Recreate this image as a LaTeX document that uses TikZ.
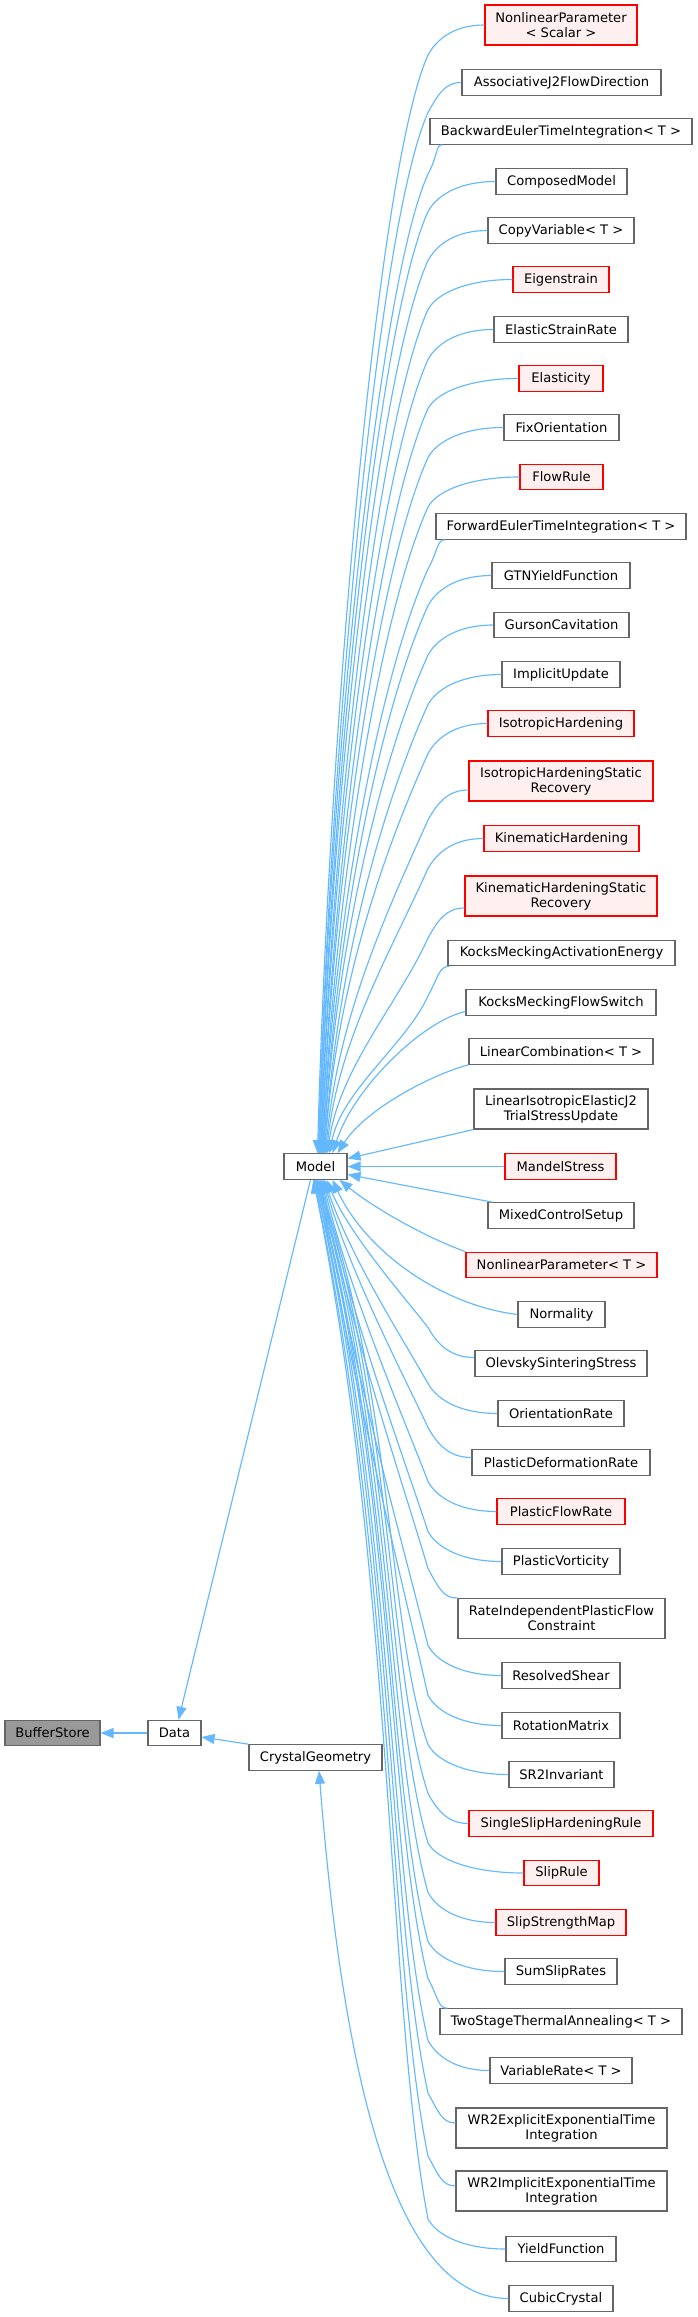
\documentclass[tikz,border=0pt]{standalone}
\usepackage{fontspec}
\setmainfont{DejaVu Sans}
\usetikzlibrary{calc,arrows.meta}
\definecolor{edgec}{HTML}{63B8FF}
\definecolor{grayb}{HTML}{666666}
\definecolor{redfill}{HTML}{FFF0F0}
\definecolor{bsfill}{HTML}{999999}
\tikzset{
  box/.style={draw=grayb, fill=white, line width=1.15pt, minimum height=25.5pt, inner sep=0pt,
    align=center, font=\fontsize{13.1pt}{15pt}\selectfont},
  tall/.style={minimum height=40pt},
  redbox/.style={box, draw=red, fill=redfill},
  edge/.style={draw=edgec, line width=1.15pt, -{Triangle[length=13pt,width=10pt]}}
}
\newcommand\upE[4]{%
\pgfmathsetmacro\eca{#2-0.5*(#2-428)}%
\pgfmathsetmacro\ecb{#3+12}%
\pgfmathsetmacro\eky{#3+30}%
\pgfmathsetmacro\egp{1154-\eky}%
\pgfmathsetmacro\ela{min(110,0.3*\egp)}%
\pgfmathsetmacro\epax{428-0.45*\ela}%
\pgfmathsetmacro\epay{\eky+\ela}%
\pgfmathsetmacro\epbx{315.5+#4+12}%
\pgfmathsetmacro\epby{1154-0.4*\egp}%
\draw[edge] (#1) .. controls (\eca,#3) and (438,\ecb) .. (428,\eky) .. controls (\epax,\epay) and (\epbx,\epby) .. ($(Model.north)+(#4,0)$);}
\newcommand\loE[4]{%
\pgfmathsetmacro\eca{#2-0.5*(#2-428)}%
\pgfmathsetmacro\ecb{#3-12}%
\pgfmathsetmacro\eky{#3-30}%
\pgfmathsetmacro\egp{\eky-1179}%
\pgfmathsetmacro\epax{(\eky<1700) ? 405 : 388}%
\pgfmathsetmacro\epay{\eky-0.2*\egp}%
\pgfmathsetmacro\epbx{(\eky<1700) ? 350 : 393}%
\pgfmathsetmacro\epby{1179+0.38*\egp}%
\draw[edge] (#1) .. controls (\eca,#3) and (438,\ecb) .. (428,\eky) .. controls (\epax,\epay) and (\epbx,\epby) .. ($(Model.south)+(#4,0)$);}
\begin{document}
\begin{tikzpicture}[x=1pt,y=-1pt]
\useasboundingbox (0,0) rectangle (697,2317);
% left part
\node[box, fill=bsfill, minimum width=95pt] (BufferStore) at (52.5,1733) {BufferStore};
\node[box, minimum width=53pt] (Data) at (174.5,1733) {Data};
\node[box, minimum width=133pt] (CrystalGeometry) at (315.5,1757.5) {CrystalGeometry};
\node[box, minimum width=63pt] (Model) at (315.5,1166.5) {Model};
% right column
\node[redbox, tall, minimum width=152pt] (NPScalar) at (561,25) {NonlinearParameter\\< Scalar >};
\node[box, minimum width=199pt] (AssocJ2) at (561.5,82.5) {AssociativeJ2FlowDirection};
\node[box, minimum width=262pt] (Backward) at (561,131.5) {BackwardEulerTimeIntegration< T >};
\node[box, minimum width=131pt] (Composed) at (561.5,181.5) {ComposedModel};
\node[box, minimum width=146pt] (CopyVariable) at (561,230.5) {CopyVariable< T >};
\node[redbox, minimum width=96pt] (Eigenstrain) at (561,279.5) {Eigenstrain};
\node[box, minimum width=134pt] (ElasticStrainRate) at (561,329.5) {ElasticStrainRate};
\node[redbox, minimum width=84pt] (Elasticity) at (561,378.5) {Elasticity};
\node[box, minimum width=115pt] (FixOrientation) at (561.5,427.5) {FixOrientation};
\node[redbox, minimum width=83pt] (FlowRule) at (561.5,477) {FlowRule};
\node[box, minimum width=250pt] (ForwardEuler) at (561,526.5) {ForwardEulerTimeIntegration< T >};
\node[box, minimum width=138pt] (GTN) at (561,575.5) {GTNYieldFunction};
\node[box, minimum width=135pt] (Gurson) at (561.5,625) {GursonCavitation};
\node[box, minimum width=118pt] (ImplicitUpdate) at (561,674.5) {ImplicitUpdate};
\node[redbox, minimum width=146pt] (IsoHard) at (561,723.5) {IsotropicHardening};
\node[redbox, tall, minimum width=184pt] (IsoHardSR) at (561,781) {IsotropicHardeningStatic\\Recovery};
\node[redbox, minimum width=155pt] (KinHard) at (561.5,838.5) {KinematicHardening};
\node[redbox, tall, minimum width=192pt] (KinHardSR) at (561,896) {KinematicHardeningStatic\\Recovery};
\node[box, minimum width=227pt] (KocksAE) at (561.5,953) {KocksMeckingActivationEnergy};
\node[box, minimum width=190pt] (KocksFS) at (561,1002.5) {KocksMeckingFlowSwitch};
\node[box, minimum width=184pt] (LinComb) at (561,1051.5) {LinearCombination< T >};
\node[box, tall, minimum width=174pt] (LinIsoJ2) at (561,1109) {LinearIsotropicElasticJ2\\TrialStressUpdate};
\node[redbox, minimum width=111pt] (Mandel) at (560.5,1166.5) {MandelStress};
\node[box, minimum width=146pt] (MixedControl) at (561,1215.5) {MixedControlSetup};
\node[redbox, minimum width=191pt] (NPT) at (561.5,1265) {NonlinearParameter< T >};
\node[box, minimum width=87pt] (Normality) at (561.5,1314.5) {Normality};
\node[box, minimum width=172pt] (Olevsky) at (561,1363.5) {OlevskySinteringStress};
\node[box, minimum width=126pt] (OrientationRate) at (561,1413.5) {OrientationRate};
\node[box, minimum width=178pt] (PlasticDefRate) at (561,1462.5) {PlasticDeformationRate};
\node[redbox, minimum width=128pt] (PlasticFlowRate) at (561,1511.5) {PlasticFlowRate};
\node[box, minimum width=118pt] (PlasticVorticity) at (561,1561.5) {PlasticVorticity};
\node[box, tall, minimum width=207pt] (RateIndep) at (561.5,1618.5) {RateIndependentPlasticFlow\\Constraint};
\node[box, minimum width=118pt] (ResolvedShear) at (561,1675.5) {ResolvedShear};
\node[box, minimum width=118pt] (RotationMatrix) at (561,1725.5) {RotationMatrix};
\node[box, minimum width=105pt] (SR2Invariant) at (561.5,1774.5) {SR2Invariant};
\node[redbox, minimum width=184pt] (SingleSlip) at (561,1823.5) {SingleSlipHardeningRule};
\node[redbox, minimum width=75pt] (SlipRule) at (561.5,1873) {SlipRule};
\node[redbox, minimum width=130pt] (SlipStrengthMap) at (561,1922.5) {SlipStrengthMap};
\node[box, minimum width=112pt] (SumSlipRates) at (561,1971.5) {SumSlipRates};
\node[box, minimum width=242pt] (TwoStage) at (561,2021.5) {TwoStageThermalAnnealing< T >};
\node[box, minimum width=142pt] (VariableRate) at (561,2070.5) {VariableRate< T >};
\node[box, tall, minimum width=211pt] (WR2Explicit) at (561.5,2128) {WR2ExplicitExponentialTime\\Integration};
\node[box, tall, minimum width=211pt] (WR2Implicit) at (561.5,2191) {WR2ImplicitExponentialTime\\Integration};
\node[box, minimum width=110pt] (YieldFunction) at (561,2249) {YieldFunction};
\node[box, minimum width=104pt] (CubicCrystal) at (561,2298.5) {CubicCrystal};
% left edges
\draw[edge] (Data.west) -- (BufferStore.east);
\draw[edge] (CrystalGeometry.north west) -- ([yshift=-4pt]Data.east);
\draw[edge] ([xshift=-5pt]Model.south) -- ([xshift=4pt]Data.north);
\draw[edge] (CubicCrystal.west) .. controls (400,2298) and (345,2100) .. ([xshift=3.5pt]CrystalGeometry.south);
% upper edges
\upE{NPScalar.west}{485}{25}{2}
\upE{AssocJ2.west}{462}{82.5}{3}
\upE{[xshift=13pt]Backward.south west}{443}{144}{3}
\upE{Composed.west}{496}{181.5}{4}
\upE{CopyVariable.west}{488}{230.5}{4}
\upE{Eigenstrain.west}{513}{279.5}{5}
\upE{ElasticStrainRate.west}{494}{329.5}{5}
\upE{Elasticity.west}{519}{378.5}{6}
\upE{FixOrientation.west}{504}{427.5}{6}
\upE{FlowRule.west}{520}{477}{7}
\upE{[xshift=10pt]ForwardEuler.south west}{446}{539}{7}
\upE{GTN.west}{492}{575.5}{8}
\upE{Gurson.west}{494}{625}{8}
\upE{ImplicitUpdate.west}{502}{674.5}{9}
\upE{IsoHard.west}{488}{723.5}{9}
\upE{[yshift=-9pt]IsoHardSR.west}{469}{790}{10}
\upE{KinHard.west}{484}{838.5}{11}
\upE{[yshift=-12pt]KinHardSR.west}{465}{908}{12}
\upE{[xshift=2pt]KocksAE.south west}{450}{966}{14}
\draw[edge] ([yshift=-9pt]KocksFS.west) .. controls (425,1020) and (355,1085) .. ($(Model.north)+(17,0)$);
\draw[edge] (LinComb.south west) .. controls (430,1075) and (365,1110) .. ($(Model.north)+(22,0)$);
% side edges
\draw[edge] (LinIsoJ2.south west) -- ([yshift=8pt]Model.east);
\draw[edge] (Mandel.west) -- (Model.east);
\draw[edge] ([xshift=5pt]MixedControl.north west) -- ([yshift=-8pt]Model.east);
% lower edges
\draw[edge] (NPT.north west) .. controls (420,1235) and (370,1205) .. ($(Model.south)+(24,0)$);
\draw[edge] (Normality.west) .. controls (440,1305) and (365,1250) .. ($(Model.south)+(17,0)$);
\loE{[yshift=6pt]Olevsky.west}{475}{1357.5}{11}
\loE{OrientationRate.west}{498}{1413.5}{9}
\loE{[yshift=5pt]PlasticDefRate.west}{472}{1457.5}{8}
\loE{PlasticFlowRate.west}{497}{1511.5}{7}
\loE{PlasticVorticity.west}{502}{1561.5}{6}
\loE{RateIndep.north west}{458}{1598.5}{5}
\loE{ResolvedShear.west}{502}{1675.5}{4}
\loE{RotationMatrix.west}{502}{1725.5}{3}
\loE{SR2Invariant.west}{509}{1774.5}{2}
\loE{SingleSlip.west}{469}{1823.5}{2}
\loE{SlipRule.west}{524}{1873}{1}
\loE{SlipStrengthMap.west}{496}{1922.5}{1}
\loE{SumSlipRates.west}{505}{1971.5}{0}
\loE{[xshift=8pt]TwoStage.north west}{448}{2008.5}{0}
\loE{VariableRate.west}{490}{2070.5}{-1}
\loE{[yshift=5pt]WR2Explicit.west}{456}{2123}{-1}
\loE{[yshift=5pt]WR2Implicit.west}{456}{2186}{-2}
\loE{YieldFunction.west}{506}{2249}{-2}
\end{tikzpicture}
\end{document}
